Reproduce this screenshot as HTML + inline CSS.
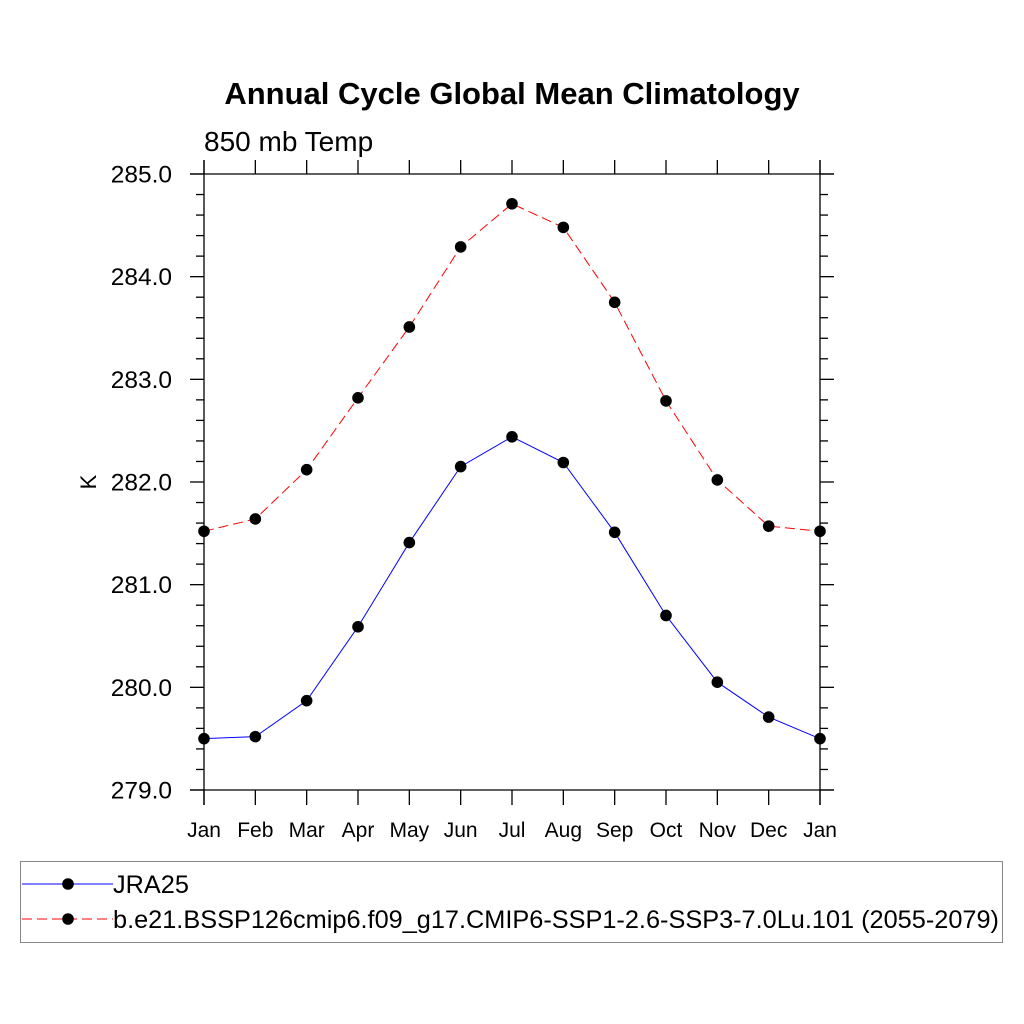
<!DOCTYPE html>
<html><head><meta charset="utf-8"><style>
body{margin:0;background:#fff}
svg{display:block;font-family:"Liberation Sans",sans-serif}
</style></head><body>
<svg id="c" width="1024" height="1024" viewBox="0 0 1024 1024">
<text x="512" y="104" text-anchor="middle" font-size="31" font-weight="bold">Annual Cycle Global Mean Climatology</text>
<text x="204" y="151" font-size="28">850 mb Temp</text>
<text transform="translate(96,482) rotate(-90)" text-anchor="middle" font-size="22">K</text>
<g id="axes"></g>
<g id="series"></g>
<rect x="20.5" y="861.5" width="982" height="81" fill="none" stroke="#888" stroke-width="1"/>
<g id="legend"></g>
</svg>
<script>
const months=["Jan","Feb","Mar","Apr","May","Jun","Jul","Aug","Sep","Oct","Nov","Dec","Jan"];
const jra25=[279.50,279.52,279.87,280.59,281.41,282.15,282.44,282.19,281.51,280.70,280.05,279.71,279.50];
const ssp=[281.52,281.64,282.12,282.82,283.51,284.29,284.71,284.48,283.75,282.79,282.02,281.57,281.52];
const yTicks=[279,280,281,282,283,284,285];
const seriesNames=["JRA25","b.e21.BSSP126cmip6.f09_g17.CMIP6-SSP1-2.6-SSP3-7.0Lu.101 (2055-2079)"];
const NS="http://www.w3.org/2000/svg";
const X0=204,X1=820,Y0=790,Y1=174,YMIN=279,YMAX=285;
const xs=i=>X0+(X1-X0)*i/(months.length-1);
const ys=v=>Y0-(Y0-Y1)*(v-YMIN)/(YMAX-YMIN);
function mk(p,t,a){const e=document.createElementNS(NS,t);for(const k in a)e.setAttribute(k,a[k]);p.appendChild(e);return e;}
const ax=document.getElementById('axes');
const L=(x1,y1,x2,y2,n)=>{const e=mk(ax,'line',{x1,y1,x2,y2,stroke:'#000','stroke-width':1.3});

};
L(X0,160,X0,805,'left-axis');L(X1,160,X1,805,'right-axis');
L(190,Y1,834,Y1,'top-axis');L(190,Y0,834,Y0,'bottom-axis');
months.forEach((m,i)=>{const x=xs(i);
L(x,160,x,Y1,'x-tick-top');L(x,Y0,x,805,'x-tick');
const t=mk(ax,'text',{x:x,y:837,'text-anchor':'middle','font-size':21});t.textContent=m;

});
for(let v=YMIN;v<=YMAX+1e-9;v+=0.2){const y=ys(v);const major=Math.abs(v-Math.round(v))<1e-6;
L(major?190:196,y,X0,y,'y-tick');L(X1,y,major?834:828,y,'y-tick-right');}
yTicks.forEach(v=>{const t=mk(ax,'text',{x:172,y:ys(v)+8.5,'text-anchor':'end','font-size':24.5});t.textContent=v.toFixed(1);

});
const sg=document.getElementById('series');
function draw(data,col,dash,name){
const pl=mk(sg,'polyline',{points:data.map((v,i)=>xs(i)+','+ys(v)).join(' '),fill:'none',stroke:col,'stroke-width':1,'stroke-dasharray':dash});


data.forEach((v,i)=>{const c=mk(sg,'circle',{cx:xs(i),cy:ys(v),r:5.8,fill:'#000'});

});}
draw(jra25,'#00f','none','jra25');
draw(ssp,'#f00','10,5','ssp');
const lg=document.getElementById('legend');
[[884,'#00f','none'],[919,'#f00','10,5']].forEach((d,k)=>{
const l=mk(lg,'line',{x1:22,y1:d[0],x2:113,y2:d[0],stroke:d[1],'stroke-width':1,'stroke-dasharray':d[2]});


const c=mk(lg,'circle',{cx:68,cy:d[0],r:5.8,fill:'#000'});


const t=mk(lg,'text',{x:113,y:d[0]+9,'font-size':25.3});t.textContent=seriesNames[k];

});
</script>
</body></html>
